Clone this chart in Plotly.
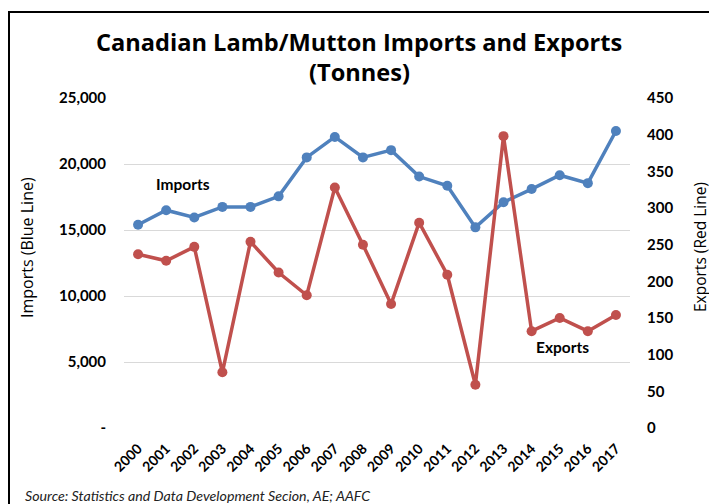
import plotly.graph_objects as go

years = [str(y) for y in range(2000, 2018)]
imports = [15400, 16500, 15950, 16750, 16750, 17550, 20500, 22050, 20500, 21050,
           19050, 18350, 15200, 17100, 18100, 19150, 18550, 22500]
exports = [237, 228, 247, 76, 254, 212, 181, 328, 250, 169,
           280, 209, 59, 398, 132, 150, 132, 154]
left_ticks = [0, 5000, 10000, 15000, 20000, 25000]
left_ticktext = ["-", "5,000", "10,000", "15,000", "20,000", "25,000"]
right_ticks = list(range(0, 451, 50))

BLUE = "#4f81bd"
RED = "#c0504d"
FONT = "Lato"
TFONT = "Open Sans"

# page body has an 8px margin: figure coords = screen coords - 8
OFF = 8
L, R, T, B = 124 - OFF, 630 - OFF, 98 - OFF, 428 - OFF
W, H = 717, 504
PW, PH = R - L, B - T


def px(sx):
    return (sx - OFF - L) / PW


def py(sy):
    return (B - (sy - OFF)) / PH


fig = go.Figure()
fig.add_trace(go.Scatter(x=years, y=imports, mode="lines+markers", name="Imports",
                         line=dict(color=BLUE, width=3.5), marker=dict(color=BLUE, size=10)))
fig.add_trace(go.Scatter(x=years, y=exports, mode="lines+markers", name="Exports", yaxis="y2",
                         line=dict(color=RED, width=3.5), marker=dict(color=RED, size=10)))

fig.update_layout(
    width=W, height=H,
    margin=dict(l=L, r=W - R, t=T, b=H - B),
    paper_bgcolor="white", plot_bgcolor="white",
    showlegend=False,
    font=dict(family=FONT, color="#000000"),
    xaxis=dict(type="category", tickangle=-45, showgrid=False, showline=False,
               ticks="outside", ticklen=6, tickcolor="rgba(0,0,0,0)", automargin=False,
               tickfont=dict(family=FONT, size=14, color="#000000", weight="bold"),
               range=[-0.5, 17.5]),
    yaxis=dict(range=[0, 25000], tickvals=left_ticks, ticktext=left_ticktext,
               showgrid=True, gridcolor="#d9d9d9", gridwidth=1.3, zeroline=False, showline=False,
               ticks="outside", ticklen=14, tickcolor="rgba(0,0,0,0)", automargin=False,
               tickfont=dict(family=FONT, size=15, color="#000000", weight="bold")),
    yaxis2=dict(range=[0, 450], tickvals=right_ticks, overlaying="y", side="right",
                showgrid=False, zeroline=False, showline=False,
                ticks="outside", ticklen=13, tickcolor="rgba(0,0,0,0)", automargin=False,
                tickfont=dict(family=FONT, size=15, color="#000000", weight="bold")),
)

# title lines
fig.add_annotation(x=px(359), y=py(42), xref="paper", yref="paper",
                   text="<b>Canadian Lamb/Mutton Imports and Exports</b>",
                   showarrow=False, xanchor="center", yanchor="middle",
                   font=dict(family=TFONT, size=23.6, color="#000000"))
fig.add_annotation(x=px(359), y=py(72), xref="paper", yref="paper",
                   text="<b>(Tonnes)</b>",
                   showarrow=False, xanchor="center", yanchor="middle",
                   font=dict(family=TFONT, size=23.6, color="#000000"))

# axis titles
fig.add_annotation(x=px(27), y=py(248), xref="paper", yref="paper",
                   text="Imports (Blue Line)", textangle=-90,
                   showarrow=False, xanchor="center", yanchor="middle",
                   font=dict(family=TFONT, size=16, color="#000000"))
fig.add_annotation(x=px(700), y=py(247), xref="paper", yref="paper",
                   text="Exports (Red Line)", textangle=-90,
                   showarrow=False, xanchor="center", yanchor="middle",
                   font=dict(family=TFONT, size=15.5, color="#000000"))

# series labels
fig.add_annotation(x=1.6, y=18450, xref="x", yref="y", text="<b>Imports</b>",
                   showarrow=False, font=dict(family=FONT, size=15.5, color="#000000"))
fig.add_annotation(x=15.1, y=110, xref="x", yref="y2", text="<b>Exports</b>",
                   showarrow=False, font=dict(family=FONT, size=15.5, color="#000000"))

# source
fig.add_annotation(x=px(23), y=py(495), xref="paper", yref="paper",
                   text="<i>Source: Statistics and Data Development Secion, AE; AAFC</i>",
                   showarrow=False, xanchor="left", yanchor="middle",
                   font=dict(family=FONT, size=14.2, color="#222222"))

# outer chart border
fig.add_shape(type="rect", xref="paper", yref="paper",
              x0=px(9), x1=px(740), y0=py(530), y1=py(12),
              line=dict(color="black", width=2), fillcolor="rgba(0,0,0,0)", layer="below")

fig.write_html("out.html")
